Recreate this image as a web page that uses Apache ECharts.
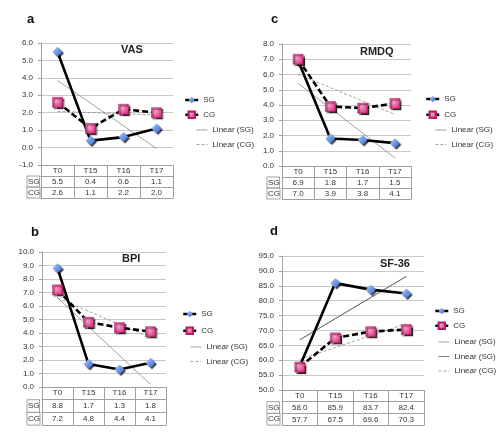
<!DOCTYPE html>
<html>
<head>
<meta charset="utf-8">
<script src="https://cdn.jsdelivr.net/npm/echarts@6/dist/echarts.min.js"></script>
<style>
html,body{margin:0;padding:0;background:#fff;}
#c{width:499px;height:433px;}
</style>
</head>
<body>
<div id="c"></div>
<script>
// ---- data ----
const categories = ['T0', 'T15', 'T16', 'T17'];
const rowNames = ['SG', 'CG'];

const vasSG = [5.5, 0.4, 0.6, 1.1];
const vasCG = [2.6, 1.1, 2.2, 2.0];
const vasTrendSG = [3.85, null, null, -0.05];
const vasTrendCG = [2.08, null, null, 1.87];

const rmdqSG = [6.9, 1.8, 1.7, 1.5];
const rmdqCG = [7.0, 3.9, 3.8, 4.1];
const rmdqTrendSG = [5.42, null, null, 0.53];
const rmdqTrendCG = [6.02, null, null, 3.38];

const bpiSG = [8.8, 1.7, 1.3, 1.8];
const bpiCG = [7.2, 4.8, 4.4, 4.1];
const bpiTrendSG = [6.61, null, null, 0.19];
const bpiTrendCG = [6.58, null, null, 3.67];

const sfSG = [58.0, 85.9, 83.7, 82.4];
const sfCG = [57.7, 67.5, 69.6, 70.3];
const sfTrendSG = [66.85, null, null, 88.15];
const sfTrendCG = [60.29, null, null, 72.26];

const panelLetters = ['a', 'c', 'b', 'd'];
const panelTitles = ['VAS', 'RMDQ', 'BPI', 'SF-36'];
const yMin = [-1, 0, 0, 50];
const yMax = [6, 8, 10, 95];
const yInterval = [1, 1, 1, 5];

// ---- layout / style ----
const FONT = 'Liberation Sans, Arial, Helvetica, sans-serif';
const panels = [
  { sg: vasSG, cg: vasCG, tsg: [vasTrendSG], tcg: vasTrendCG,
    grid: { left: 41, top: 43, width: 132, height: 122 }, rowH: 11, tableLeft: 27,
    letter: [27, 13], titlePos: [121, 44],
    leg1: [184, 96, 6.5], leg2: [196, 126, 6.5] },
  { sg: rmdqSG, cg: rmdqCG, tsg: [rmdqTrendSG], tcg: rmdqTrendCG,
    grid: { left: 282, top: 44, width: 129, height: 122 }, rowH: 11, tableLeft: 267,
    letter: [271, 13], titlePos: [360, 46],
    leg1: [425, 95, 7.5], leg2: [435, 126, 6.5] },
  { sg: bpiSG, cg: bpiCG, tsg: [bpiTrendSG], tcg: bpiTrendCG,
    grid: { left: 42, top: 252, width: 124, height: 135 }, rowH: 12.7, tableLeft: 27,
    letter: [31, 225.5], titlePos: [122, 253.5],
    leg1: [182, 310, 8.5], leg2: [190, 343, 6.5] },
  { sg: sfSG, cg: sfCG, tsg: [sfTrendSG, sfTrendSG], tcg: sfTrendCG,
    grid: { left: 282, top: 256, width: 142, height: 134 }, rowH: 11.7, tableLeft: 267,
    letter: [270, 225], titlePos: [380, 258],
    leg1: [434, 307, 6.5], leg2: [438, 338, 6.5] }
];

const TXT = '#333';
const GRIDC = '#c9c9c9';
const AXC = '#a0a0a0';

const sgMarker = {
  color: new echarts.graphic.LinearGradient(0, 0, 1, 1, [
    { offset: 0, color: '#b5cdf7' }, { offset: 0.5, color: '#6e98e6' }, { offset: 1, color: '#3a66c9' }
  ]),
  shadowColor: 'rgba(0,0,0,0.75)', shadowBlur: 1, shadowOffsetX: 1.5, shadowOffsetY: 1.5
};
const cgMarker = {
  color: new echarts.graphic.RadialGradient(0.4, 0.4, 0.7, [
    { offset: 0, color: '#f7a0c8' }, { offset: 1, color: '#d6287c' }
  ]),
  borderColor: '#b01e66', borderWidth: 0.5,
  shadowColor: 'rgba(0,0,0,0.8)', shadowBlur: 1, shadowOffsetX: 1.5, shadowOffsetY: 1.5
};

const grids = [], xAxes = [], yAxes = [], series = [], titles = [], legends = [];

panels.forEach((p, gi) => {
  grids.push(Object.assign({ containLabel: false }, p.grid));
  yAxes.push({
    gridIndex: gi, type: 'value', min: yMin[gi], max: yMax[gi], interval: yInterval[gi],
    axisLine: { show: true, lineStyle: { color: AXC, width: 1 } },
    axisTick: { show: true, length: 3, lineStyle: { color: AXC } },
    axisLabel: { fontSize: 8, color: TXT, fontFamily: FONT, margin: 8,
      formatter: v => v.toFixed(1) },
    splitLine: { show: true, lineStyle: { color: GRIDC, width: 1 } }
  });
  const base = xAxes.length;
  const colW = p.grid.left - p.tableLeft;
  // category row
  xAxes.push({
    gridIndex: gi, type: 'category', data: categories, position: 'bottom', boundaryGap: true,
    axisLine: { onZero: false, lineStyle: { color: AXC, width: 1 } },
    axisTick: { show: true, length: p.rowH, lineStyle: { color: AXC } },
    axisLabel: { interval: 0, fontSize: 8, color: TXT, fontFamily: FONT, margin: 2 },
    splitLine: { show: false }
  });
  // SG / CG rows of the data table
  [p.sg, p.cg].forEach((vals, ri) => {
    xAxes.push({
      gridIndex: gi, type: 'category', data: categories, position: 'bottom', boundaryGap: true,
      offset: p.rowH * (ri + 1),
      name: rowNames[ri], nameLocation: 'start', nameGap: colW,
      nameTextStyle: { fontSize: 8, color: TXT, fontFamily: FONT, align: 'left', verticalAlign: 'top',
        width: colW - 1, height: p.rowH, lineHeight: p.rowH, padding: [0, 0, 0, 1],
        borderColor: AXC, borderWidth: 1 },
      axisLine: { onZero: false, lineStyle: { color: AXC, width: 1 } },
      axisTick: { show: true, length: p.rowH, lineStyle: { color: AXC } },
      axisLabel: { interval: 0, fontSize: 8, color: TXT, fontFamily: FONT, margin: 2,
        formatter: (v, i) => vals[i].toFixed(1) },
      splitLine: { show: false }
    });
  });
  // bottom border of the table
  xAxes.push({
    gridIndex: gi, type: 'category', data: categories, position: 'bottom', boundaryGap: true,
    offset: p.rowH * 3,
    axisLine: { onZero: false, lineStyle: { color: AXC, width: 1 } },
    axisTick: { show: false }, axisLabel: { show: false }, splitLine: { show: false }
  });

  // series
  series.push({
    name: 'SG', type: 'line', xAxisIndex: base, yAxisIndex: gi, data: p.sg,
    symbol: 'diamond', symbolSize: 10, z: 5,
    lineStyle: { color: '#000', width: 2.6 }, itemStyle: sgMarker
  });
  series.push({
    name: 'CG', type: 'line', xAxisIndex: base, yAxisIndex: gi, data: p.cg,
    symbol: 'rect', symbolSize: 10, z: 5,
    lineStyle: { color: '#000', width: 2.6, type: [6, 3] }, itemStyle: cgMarker
  });
  const trendNames = p.tsg.length > 1 ? ['Linear (SG)', 'Linear (SG) '] : ['Linear (SG)'];
  p.tsg.forEach((t, k) => {
    series.push({
      name: trendNames[k], type: 'line', xAxisIndex: base, yAxisIndex: gi, data: t,
      connectNulls: true, symbol: 'none', z: 4, silent: true,
      lineStyle: { color: k === 0 ? '#8a8a8a' : '#5a5a5a', width: 0.8 },
      itemStyle: { color: '#8a8a8a' }
    });
  });
  series.push({
    name: 'Linear (CG)', type: 'line', xAxisIndex: base, yAxisIndex: gi, data: p.tcg,
    connectNulls: true, symbol: 'none', z: 4, silent: true,
    lineStyle: { color: '#8a8a8a', width: 0.8, type: [3, 2] },
    itemStyle: { color: '#8a8a8a' }
  });

  titles.push({ text: panelLetters[gi], left: p.letter[0], top: p.letter[1], padding: 0,
    textStyle: { fontSize: 13, fontWeight: 'bold', color: '#111', fontFamily: FONT } });
  titles.push({ text: panelTitles[gi], left: p.titlePos[0], top: p.titlePos[1], padding: 0,
    textStyle: { fontSize: 11, fontWeight: 'bold', color: '#222', fontFamily: FONT } });

  const legText = { fontSize: 8, color: TXT, fontFamily: FONT };
  legends.push({ data: ['SG', 'CG'], orient: 'vertical', left: p.leg1[0], top: p.leg1[1],
    itemGap: p.leg1[2], itemWidth: 13, itemHeight: 8, padding: 0, textStyle: legText,
    lineStyle: { width: 2.5 }, selectedMode: false });
  legends.push({ data: trendNames.concat(['Linear (CG)']), orient: 'vertical', left: p.leg2[0], top: p.leg2[1],
    itemGap: p.leg2[2], itemWidth: 11, itemHeight: 8, padding: 0, textStyle: legText,
    lineStyle: { width: 0.8 },
    itemStyle: { color: 'rgba(0,0,0,0)', borderWidth: 0, borderColor: 'rgba(0,0,0,0)' },
    selectedMode: false });
});

const chart = echarts.init(document.getElementById('c'), null, { renderer: 'canvas', width: 499, height: 433 });
chart.setOption({
  backgroundColor: '#fff',
  animation: false,
  textStyle: { fontFamily: FONT },
  title: titles,
  legend: legends,
  grid: grids,
  xAxis: xAxes,
  yAxis: yAxes,
  series: series
});
</script>
</body>
</html>
